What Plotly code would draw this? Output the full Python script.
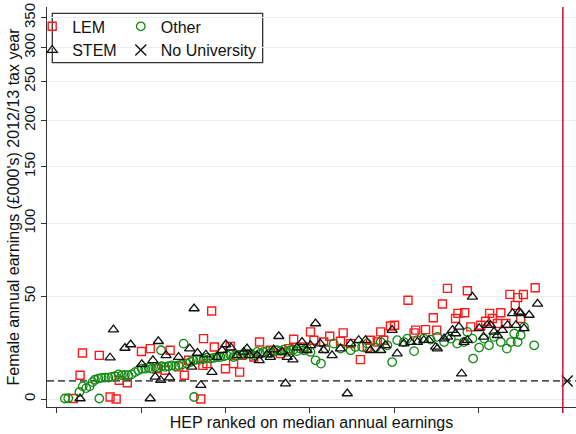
import numpy as np
import plotly.graph_objects as go

# ---- data: HEP rank (x) and female annual earnings, £000s (y) ----
lem_rank = [4.9, 6.9, 7.6, 12.6, 15.8, 17.6, 18.5, 20.9, 25.1, 27.7, 29.7, 32.1, 33.6, 36.1, 37.8,
            39.1, 42.7, 43.3, 43.5, 44.5, 45.9, 46.7, 50.0, 51.4, 52.4, 54.2, 54.9, 58.4, 60.1,
            63.3, 66.3, 68.8, 70.2, 73.2, 75.2, 76.2, 79.1, 80.9, 84.1, 84.9, 87.1, 90.0, 92.0,
            93.0, 95.0, 96.0, 96.9, 98.9, 100.1, 104.1, 105.9, 106.4, 109.3, 111.6, 112.6, 114.3,
            115.8, 118.2, 118.9, 120.9, 121.7, 122.7, 125.7, 127.1, 128.3, 129.1, 130.6, 131.6,
            133.1, 134.3, 135.9, 136.6, 137.5, 138.3, 141.8]
lem_earn = [0.2, 9.8, 19.9, 18.8, 0.8, 0.0, 7.7, 6.6, 20.6, 22.0, 12.7, 12.0, 21.2, 13.5, 9.8,
            16.5, 0.0, 14.2, 26.9, 15.0, 41.5, 22.8, 12.7, 23.1, 15.0, 11.2, 18.8, 18.0, 25.2,
            21.2, 19.6, 22.0, 26.6, 22.8, 30.3, 26.1, 25.2, 28.1, 25.6, 29.8, 24.4, 16.8, 22.5,
            26.1, 25.2, 30.3, 26.1, 33.4, 33.8, 47.6, 29.8, 31.2, 31.5, 37.8, 31.2, 45.5,
            54.7, 37.4, 40.2, 40.5, 53.3, 32.9, 33.8, 35.9, 40.2, 37.4, 34.7, 40.5,
            34.7, 51.1, 44.7, 49.2, 37.4, 51.0, 55.1]

other_rank = [2.4, 3.4, 6.7, 7.7, 8.7, 9.7, 10.6, 11.3, 12.3, 12.6, 13.3, 14.3, 15.3, 16.3, 17.3,
              18.3, 19.3, 20.2, 21.2, 22.2, 23.2, 24.2, 25.2, 26.2, 27.2, 28.2, 29.2, 30.1, 30.9,
              31.1, 32.1, 33.1, 34.1, 35.1, 36.1, 37.1, 37.6, 38.6, 39.6, 40.5, 40.7, 41.5, 42.5,
              43.5, 44.5, 45.5, 46.5, 47.5, 48.5, 49.5, 50.4, 51.4, 52.4, 53.4, 54.4, 55.4, 56.4,
              57.4, 58.4, 59.4, 60.3, 61.3, 62.3, 63.3, 64.3, 65.3, 66.3, 67.3, 68.3, 69.3, 70.2,
              71.2, 72.2, 73.2, 74.2, 75.2, 76.7, 78.3, 79.6, 82.1, 84.1, 87.1, 88.5, 90.5, 92.0,
              94.5, 96.0, 98.0, 99.4, 100.9, 102.9, 103.9, 105.9, 106.9, 108.8, 110.8, 112.8,
              114.8, 116.8, 118.7, 120.7, 121.7, 123.2, 123.4, 125.2, 126.7, 128.1, 129.6, 131.6,
              133.4, 134.6, 135.6, 136.6, 137.5, 138.5, 141.5]
other_earn = [0.2, 0.3, 2.8, 5.1, 4.4, 5.1, 6.9, 7.9, 8.4, 0.2, 8.7, 8.8, 8.8, 9.1, 9.4,
              10.2, 9.8, 10.0, 9.8, 10.2, 11.2, 12.0, 12.7, 12.7, 13.2, 12.7, 13.5, 13.2, 21.2,
              13.8, 13.5, 13.8, 14.2, 13.8, 14.2, 14.6, 24.4, 15.0, 15.7, 16.5, 0.8, 16.8, 16.8,
              17.1, 17.7, 17.3, 17.6, 18.0, 18.0, 18.3, 18.8, 19.1, 18.0, 18.8, 19.1, 19.3, 19.6,
              19.6, 18.8, 20.4, 19.6, 20.4, 20.8, 19.9, 20.4, 21.2, 20.8, 21.5, 20.4, 21.2, 21.5,
              20.8, 22.0, 21.2, 22.0, 20.4, 16.5, 15.0, 22.0, 24.4, 22.0, 21.2, 22.8, 22.8, 24.4,
              22.5, 25.2, 23.6, 15.7, 26.1, 25.2, 26.9, 20.8, 26.1, 26.9, 26.4, 27.8,
              25.2, 26.9, 24.4, 25.2, 30.3, 26.9, 17.3, 22.5, 26.9, 23.6, 27.8, 25.2,
              22.0, 25.2, 29.5, 25.2, 28.6, 32.9, 23.6]

stem_rank = [6.9, 15.8, 16.8, 20.2, 21.9, 25.2, 27.7, 28.5, 29.2, 30.1, 30.8, 32.4, 33.4, 36.1,
             39.4, 40.0, 40.7, 41.7, 42.7, 44.2, 46.0, 47.5, 49.0, 50.1, 51.6, 53.4, 55.4, 56.4,
             57.2, 59.4, 60.0, 62.3, 63.3, 64.3, 65.8, 66.8, 67.8, 68.3, 70.0, 71.2, 72.7, 74.2,
             75.2, 76.7, 78.1, 79.1, 81.6, 84.1, 86.1, 87.1, 89.5, 91.5, 93.0, 96.0, 97.4, 99.4,
             100.9, 102.9, 104.9, 106.9, 108.8, 110.3, 112.3, 112.8, 114.8, 115.8, 117.3, 118.2,
             119.2, 120.0, 120.7, 121.7, 123.2, 125.2, 126.5, 127.6, 128.6, 129.6, 130.6, 132.1,
             133.6, 135.1, 136.1, 137.0, 137.5, 138.5, 140.0, 142.5]
stem_earn = [0.2, 17.7, 31.5, 22.3, 24.0, 14.7, 0.2, 16.5, 9.1, 25.6, 7.7, 18.8, 8.8, 18.0,
             22.0, 13.5, 42.9, 19.9, 5.6, 19.1, 11.2, 18.0, 21.2, 24.0, 22.5, 18.8, 20.4, 22.0,
             18.8, 18.8, 16.5, 19.1, 18.0, 21.5, 28.1, 20.4, 6.3, 18.0, 16.8, 22.5, 25.2, 21.2,
             23.6, 34.7, 24.4, 21.2, 18.8, 22.0, 2.2, 24.4, 26.1, 26.1, 21.2, 21.2, 23.6, 31.2,
             19.6, 24.4, 25.2, 25.2, 26.1, 26.1, 22.8, 22.0, 26.9, 27.8, 31.2, 29.5,
             32.9, 10.5, 25.2, 26.1, 49.6, 32.1, 27.8, 33.8, 33.8, 30.3, 28.6, 31.2,
             33.8, 40.2, 33.8, 41.0, 40.2, 32.1, 39.3, 45.5]

no_uni_rank = [151.3]
no_uni_earn = [7.4]

threshold_earn = 7.4     # dashed reference line
cutoff_rank = 150        # vertical red line

ytick_labels = [0, 50, 100, 150, 200, 250, 300, 350]
xtick_values = [0, 25, 50, 75, 100, 125, 150]

y_title = "Female annual earnings (£000's) 2012/13 tax year"
x_title = "HEP ranked on median annual earnings"

OFFSET = 100.0


def tr(v):
    return np.log(np.asarray(v, dtype=float) + OFFSET)


FONT = "Liberation Sans, Arial, sans-serif"

fig = go.Figure()

fig.add_trace(go.Scatter(
    x=lem_rank, y=tr(lem_earn), mode="markers", name="LEM", legend="legend",
    marker=dict(symbol="square-open", size=8, color="#ff1a1a", line=dict(width=1.4))))
fig.add_trace(go.Scatter(
    x=other_rank, y=tr(other_earn), mode="markers", name="Other", legend="legend2",
    marker=dict(symbol="circle-open", size=8.5, color="#138a13", line=dict(width=1.3))))
fig.add_trace(go.Scatter(
    x=stem_rank, y=tr(stem_earn), mode="markers", name="STEM", legend="legend",
    marker=dict(symbol="triangle-up-open", size=9, color="#111111", line=dict(width=1.3))))
fig.add_trace(go.Scatter(
    x=no_uni_rank, y=tr(no_uni_earn), mode="markers", name="No University", legend="legend2",
    marker=dict(symbol="x-thin-open", size=11, color="#111111", line=dict(width=1.4))))

# dashed horizontal reference line
fig.add_shape(type="line", xref="paper", x0=0, x1=1, yref="y",
              y0=float(tr(threshold_earn)), y1=float(tr(threshold_earn)),
              line=dict(color="#555555", width=1.6, dash="7px,4px"), layer="between")
# red vertical line
fig.add_shape(type="line", xref="x", x0=cutoff_rank, x1=cutoff_rank, yref="paper",
              y0=-0.015, y1=1, line=dict(color="#cc1040", width=1.5), layer="above")
# legend frame
fig.add_shape(type="rect", xref="paper", yref="paper", x0=0.010, x1=0.4077, y0=0.861, y1=0.984,
              line=dict(color="#333333", width=1.3), fillcolor="white", layer="between")

# y-axis title as annotation for precise placement
fig.add_annotation(text=y_title, xref="paper", yref="paper", x=-0.0652, y=0.5,
                   xanchor="center", yanchor="middle", textangle=-90, showarrow=False,
                   font=dict(family=FONT, size=16, color="#111111"))

fig.update_layout(
    width=576, height=434,
    margin=dict(l=47, r=0, t=7, b=27, autoexpand=False),
    paper_bgcolor="white", plot_bgcolor="white",
    font=dict(family=FONT, size=16, color="#111111"),
    showlegend=True,
    legend=dict(x=-0.028, y=0.994, xanchor="left", yanchor="top",
                bgcolor="rgba(0,0,0,0)", borderwidth=0,
                font=dict(family=FONT, size=16, color="#111111"), tracegroupgap=0),
    legend2=dict(x=0.1395, y=0.994, xanchor="left", yanchor="top",
                 bgcolor="rgba(0,0,0,0)", borderwidth=0,
                 font=dict(family=FONT, size=16, color="#111111"), tracegroupgap=0),
)

fig.update_xaxes(
    range=[-2.9, 153.9], tickvals=xtick_values, showticklabels=False,
    ticks="outside", ticklen=5, tickcolor="#333333", tickwidth=1.2,
    showline=True, linecolor="#333333", linewidth=1.3, showgrid=False, zeroline=False,
    title=dict(text=x_title, standoff=4,
               font=dict(family=FONT, size=16, color="#111111")))

fig.update_yaxes(
    range=[float(tr(-3.1)), float(tr(369.4))],
    tickvals=tr(ytick_labels).tolist(), ticktext=[str(v) for v in ytick_labels],
    tickangle=-90, tickfont=dict(family=FONT, size=15, color="#111111"),
    ticks="outside", ticklen=5, tickcolor="#333333", tickwidth=1.2,
    showline=True, linecolor="#333333", linewidth=1.3,
    showgrid=True, gridcolor="#e6eef1", gridwidth=1, zeroline=False)

fig.write_html("out.html", config={"displayModeBar": False},
               post_script="document.body.style.margin='0';")
